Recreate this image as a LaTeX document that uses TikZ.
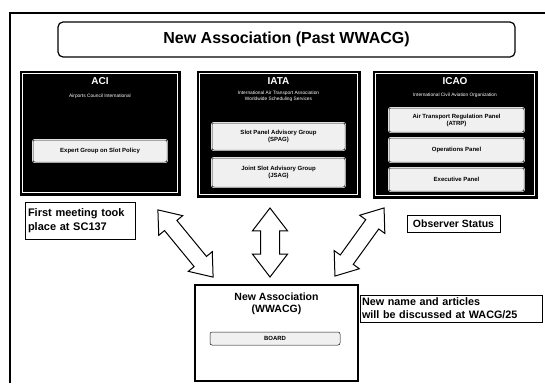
\documentclass[tikz,border=0pt]{standalone}
\usepackage{fontspec}
\setmainfont{Liberation Sans}
\usetikzlibrary{shapes.arrows}
\begin{document}
\begin{tikzpicture}[x=1pt,y=-1pt,
  darkbox/.style={draw=black,fill=black,line width=1pt,inner sep=0pt},
  inbox/.style={draw=white,double=black,double distance=0.5pt,line width=0.7pt,fill=gray!12,rounded corners=2pt,inner sep=0pt,align=center,font=\fontsize{6}{7}\selectfont\bfseries},
  dtitle/.style={text=white,font=\fontsize{10}{11}\selectfont\bfseries,inner sep=0pt},
  dsub/.style={text=white,font=\fontsize{4.8}{6.5}\selectfont,inner sep=0pt,align=center},
  note/.style={draw=black,line width=1pt,fill=white,inner sep=0pt,align=left},
  blockarrow/.style={double arrow,draw=black,line width=1pt,fill=white,inner xsep=0pt,double arrow tip angle=75}
]
\useasboundingbox (0,0) rectangle (545,383);
% outer frame
\draw[line width=1.2pt] (545,13) -- (10,13) -- (10,383);
% title
\node[draw,line width=1.2pt,rounded corners=5pt,minimum width=457pt,minimum height=35pt,inner sep=0pt,font=\fontsize{16}{18}\selectfont\bfseries] (title) at (286.5,39.5) {New Association (Past WWACG)};
% ACI
\node[darkbox,minimum width=160pt,minimum height=124pt] (aci) at (100,133) {};
\draw[white,line width=0.6pt] ([shift={(3,3)}]aci.north west) rectangle ([shift={(-3,-3)}]aci.south east);
\node[dtitle] (acit) at (100,81) {ACI};
\node[dsub] (acis) at (100,96) {Airports Council International};
\node[inbox,minimum width=134pt,minimum height=22pt] (aciin) at (100,151) {Expert Group on Slot Policy};
% IATA
\node[darkbox,minimum width=163pt,minimum height=126pt] (iata) at (278.5,134) {};
\draw[white,line width=0.6pt] ([shift={(3,3)}]iata.north west) rectangle ([shift={(-3,-3)}]iata.south east);
\node[dtitle] (iatat) at (278.5,81) {IATA};
\node[dsub] (iatas) at (278.5,96.5) {International Air Transport Association\\Worldwide Scheduling Services};
\node[inbox,minimum width=133pt,minimum height=27pt] (spag) at (278.5,136.5) {Slot Panel Advisory Group\\(SPAG)};
\node[inbox,minimum width=133pt,minimum height=29pt] (jsag) at (278.5,172.5) {Joint Slot Advisory Group\\(JSAG)};
% ICAO
\node[darkbox,minimum width=164pt,minimum height=127pt] (icao) at (455,134.5) {};
\draw[white,line width=0.6pt] ([shift={(3,3)}]icao.north west) rectangle ([shift={(-3,-3)}]icao.south east);
\node[dtitle] (icaot) at (455,81) {ICAO};
\node[dsub] (icaos) at (455,95) {International Civil Aviation Organization};
\node[inbox,minimum width=135pt,minimum height=24pt] (atrp) at (456.5,120) {Air Transport Regulation Panel\\(ATRP)};
\node[inbox,minimum width=135pt,minimum height=24pt] (opsp) at (456.5,150) {Operations Panel};
\node[inbox,minimum width=135pt,minimum height=23pt] (exep) at (456.5,179.5) {Executive Panel};
% notes
\node[note,minimum width=110pt,minimum height=37pt,text width=104pt,font=\fontsize{11}{14}\selectfont\bfseries] (first) at (80,220.5) {First meeting took\\place at SC137};
\node[note,minimum width=93pt,minimum height=17pt,align=center,font=\fontsize{10.5}{12}\selectfont\bfseries] (obs) at (453.5,223.5) {Observer Status};
\node[note,minimum width=182pt,minimum height=27pt,text width=178pt,font=\fontsize{10.8}{13}\selectfont\bfseries] (disc) at (451,308.5) {New name and articles\\will be discussed at WACG/25};
% new association
\node[draw,line width=1.2pt,fill=white,minimum width=163pt,minimum height=96pt,inner sep=0pt] (newa) at (276.5,333) {};
\node[align=center,inner sep=0pt,font=\fontsize{10.5}{12}\selectfont\bfseries] (newat) at (276.5,304) {New Association\\(WWACG)};
\node[inbox,minimum width=130pt,minimum height=13pt] (board) at (275,338.5) {BOARD};
% block arrows
\node[blockarrow,minimum height=87pt,inner ysep=7.5pt,double arrow head extend=7.5pt,rotate=-50.6] (arrl) at (185.5,243.5) {};
\node[blockarrow,minimum height=69pt,inner ysep=9pt,double arrow head extend=8pt,rotate=90] (arrm) at (270,242.5) {};
\node[blockarrow,minimum height=84pt,inner ysep=7.5pt,double arrow head extend=7.5pt,rotate=54.2] (arrr) at (359.5,242) {};
\end{tikzpicture}
\end{document}
